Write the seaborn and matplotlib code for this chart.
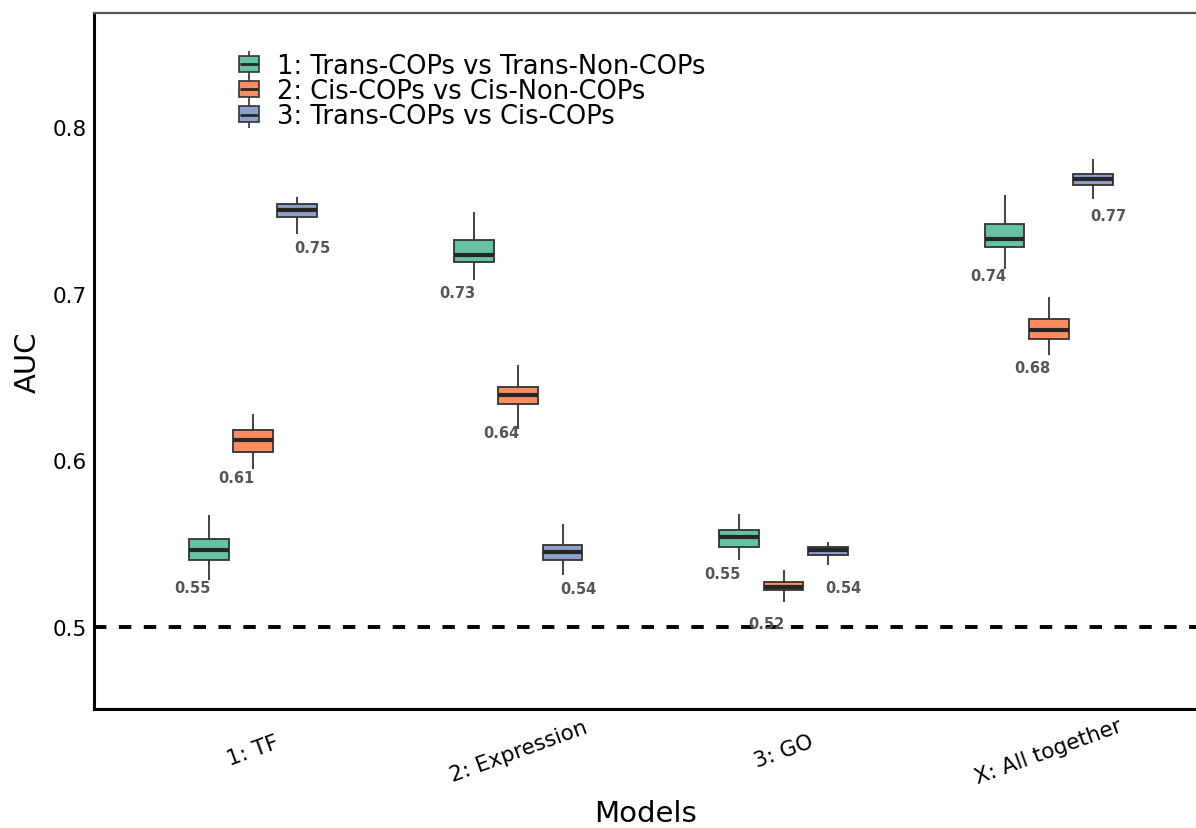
import pandas as pd
import matplotlib
matplotlib.use("Agg")
import matplotlib.pyplot as plt
import seaborn as sns
from matplotlib.lines import Line2D
from matplotlib.patches import Patch
from matplotlib.legend_handler import HandlerTuple

# ---------------------------------------------------
# data (five-number summaries: min, q1, median, q3, max)
# ---------------------------------------------------
models = ["1: TF", "2: Expression", "3: GO", "X: All together"]
comparisons = ["1: Trans-COPs vs Trans-Non-COPs",
               "2: Cis-COPs vs Cis-Non-COPs",
               "3: Trans-COPs vs Cis-COPs"]

trans_vs_trans_non = [
    [0.528, 0.540, 0.546, 0.553, 0.567],
    [0.708, 0.719, 0.723, 0.732, 0.749],
    [0.540, 0.548, 0.554, 0.558, 0.568],
    [0.715, 0.728, 0.733, 0.742, 0.759],
]
cis_vs_cis_non = [
    [0.595, 0.605, 0.612, 0.618, 0.628],
    [0.619, 0.634, 0.639, 0.644, 0.657],
    [0.515, 0.522, 0.524, 0.527, 0.534],
    [0.663, 0.673, 0.678, 0.685, 0.698],
]
trans_vs_cis = [
    [0.736, 0.746, 0.750, 0.754, 0.758],
    [0.531, 0.540, 0.545, 0.549, 0.562],
    [0.537, 0.543, 0.546, 0.548, 0.551],
    [0.757, 0.765, 0.769, 0.772, 0.781],
]

trans_vs_trans_non_labels = ["0.55", "0.73", "0.55", "0.74"]
cis_vs_cis_non_labels = ["0.61", "0.64", "0.52", "0.68"]
trans_vs_cis_labels = ["0.75", "0.54", "0.54", "0.77"]

colors = ["#66C2A5", "#FC8D62", "#8DA0CB"]

series = [trans_vs_trans_non, cis_vs_cis_non, trans_vs_cis]
series_labels = [trans_vs_trans_non_labels, cis_vs_cis_non_labels, trans_vs_cis_labels]

rows = []
for comp, values in zip(comparisons, series):
    for model, vals in zip(models, values):
        for v in vals:
            rows.append({"Models": model, "AUC": v, "comparison": comp})
df = pd.DataFrame(rows)

# ---------------------------------------------------
# style
# ---------------------------------------------------
sns.set_style("white")
plt.rcParams["font.family"] = ["DejaVu Sans"]
plt.rcParams["text.color"] = "black"
plt.rcParams["axes.labelcolor"] = "black"

fig = plt.figure(figsize=(11.96, 8.29), dpi=100)
ax = fig.add_axes([0.0786, 0.1435, 0.9214, 0.8396])

ax.axhline(0.5, color="black", linestyle=(0, (3.2, 3.2)), linewidth=2.8, zorder=1)

sns.boxplot(data=df, x="Models", y="AUC", hue="comparison", order=models,
            hue_order=comparisons, palette=colors, saturation=1, width=0.5, gap=0.1,
            whis=(0, 100), showcaps=False, fliersize=0, linewidth=1.3,
            linecolor="#333333", medianprops={"linewidth": 3, "color": "#262626"},
            legend=False, ax=ax, zorder=2)

# value labels under each box
box_step = 0.5 / 3
for k, (values, labels) in enumerate(zip(series, series_labels)):
    for i, (vals, lab) in enumerate(zip(values, labels)):
        x = i + (k - 1) * box_step
        if k < 2:
            ax.text(x + 0.005, vals[2] - 0.022, lab, ha="right", va="center",
                    fontsize=10.5, fontweight="bold", color="#555555", zorder=3)
        else:
            ax.text(x - 0.01, vals[2] - 0.022, lab, ha="left", va="center",
                    fontsize=10.5, fontweight="bold", color="#555555", zorder=3)

ax.set_xlim(-0.6, 3.555)
ax.set_ylim(0.4508, 0.8684)
ax.set_yticks([0.5, 0.6, 0.7, 0.8])
ax.set_yticklabels(["0.5", "0.6", "0.7", "0.8"])

ax.set_xlabel("Models", fontsize=21, labelpad=9)
ax.set_ylabel("AUC", fontsize=21, labelpad=8)

ax.tick_params(axis="y", labelsize=15.5, length=3, width=1, color="#333333", pad=2,
               labelcolor="black")
ax.tick_params(axis="x", labelsize=15.5, length=3, width=1, color="#333333", pad=27,
               labelcolor="black")
for lab in ax.get_xticklabels():
    lab.set_rotation(20)
    lab.set_rotation_mode("anchor")
    lab.set_ha("center")
    lab.set_va("center")

for side in ["left", "bottom"]:
    ax.spines[side].set_color("black")
    ax.spines[side].set_linewidth(2.2)
ax.spines["top"].set_color("#555555")
ax.spines["top"].set_linewidth(1.6)
ax.spines["right"].set_visible(False)

# legend with boxplot-like keys
handles = []
for c in colors:
    whisker = Line2D([], [], marker="|", markersize=19, markeredgewidth=1.2,
                     color="#333333", linestyle="none")
    box = Patch(facecolor=c, edgecolor="#333333", linewidth=1.2)
    median = Line2D([], [], marker="_", markersize=13, markeredgewidth=2,
                    color="#262626", linestyle="none")
    handles.append((whisker, box, median))
fig.legend(handles, comparisons, handler_map={tuple: HandlerTuple(ndivide=1, pad=0)},
           loc="center left", bbox_to_anchor=(0.2, 0.889), frameon=False,
           fontsize=18.5, labelspacing=-0.03, handlelength=0.76, handleheight=0.58,
           handletextpad=0.7, borderpad=0, borderaxespad=0, labelcolor="black")

plt.savefig("out.png", dpi=100)
